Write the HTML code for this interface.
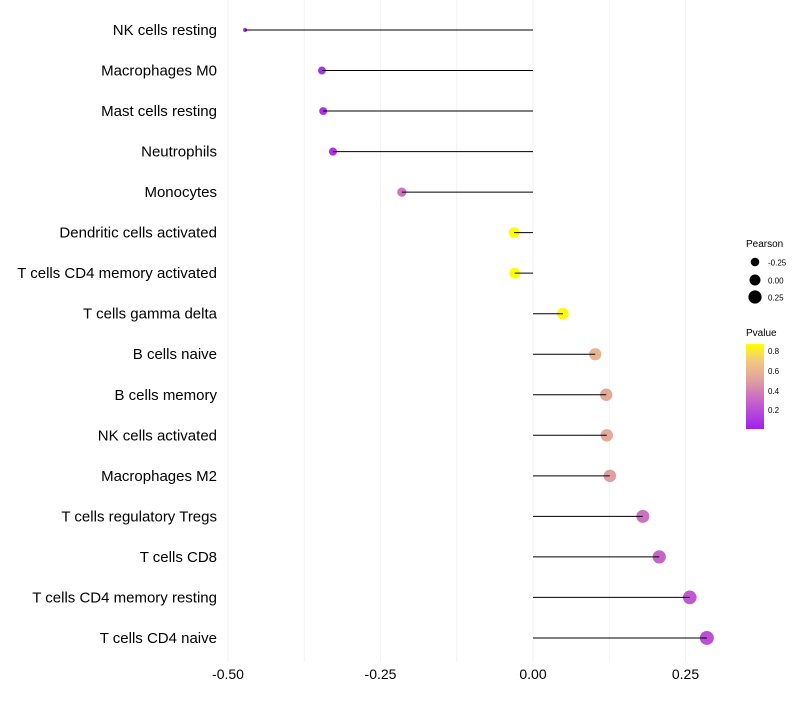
<!DOCTYPE html>
<html><head><meta charset="utf-8"><style>
body{margin:0;background:#fff;font-family:"Liberation Sans",sans-serif}
svg text{font-family:"Liberation Sans",sans-serif}
</style></head><body>
<svg id="chart" width="800" height="700" xmlns="http://www.w3.org/2000/svg">
<g id="grid"></g>
<g id="marks"></g>
<g id="ylabels"></g>
<g id="xlabels"></g>
<g>
<text x="746" y="247" font-size="10">Pearson</text>
<circle cx="755" cy="262" r="4.3" fill="#000"/><text x="768" y="265.5" font-size="8">-0.25</text>
<circle cx="755" cy="280" r="5.5" fill="#000"/><text x="768" y="283.5" font-size="8">0.00</text>
<circle cx="755" cy="297" r="6.6" fill="#000"/><text x="768" y="300.5" font-size="8">0.25</text>
</g>
<g>
<text x="746" y="336" font-size="10">Pvalue</text>
<defs><linearGradient id="cg" x1="0" y1="1" x2="0" y2="0">
<stop offset="0" stop-color="#A020F0"/><stop offset="0.35" stop-color="#C868C8"/><stop offset="0.57" stop-color="#E0A0A0"/><stop offset="0.8" stop-color="#F2C880"/><stop offset="1" stop-color="#FFFF00"/></linearGradient></defs>
<rect x="746" y="344" width="18" height="85" fill="url(#cg)"/>
<text x="768" y="354" font-size="8">0.8</text><text x="768" y="374" font-size="8">0.6</text>
<text x="768" y="394" font-size="8">0.4</text><text x="768" y="413" font-size="8">0.2</text>
</g>
</svg>
<script>
const categories=["NK cells resting","Macrophages M0","Mast cells resting","Neutrophils","Monocytes","Dendritic cells activated","T cells CD4 memory activated","T cells gamma delta","B cells naive","B cells memory","NK cells activated","Macrophages M2","T cells regulatory  Tregs ","T cells CD8","T cells CD4 memory resting","T cells CD4 naive"];
const pearson=[-0.472,-0.346,-0.344,-0.328,-0.215,-0.031,-0.030,0.049,0.102,0.120,0.121,0.126,0.180,0.207,0.257,0.285];
const pvalue=[0.05,0.1,0.1,0.1,0.35,0.88,0.88,0.85,0.6,0.55,0.55,0.5,0.35,0.3,0.25,0.22];
const xTicks=[-0.5,-0.25,0,0.25];
const xTickLabels=["-0.50","-0.25","0.00","0.25"];
const NS="http://www.w3.org/2000/svg";
function x(v){return 533+v*610;}
function y(i){return 30+i*40.53;}
function rad(v){return v<-0.42?2:4+(v+0.34)*4.8;}
function col(p){
 const st=[[0,[160,32,240]],[0.35,[200,104,200]],[0.57,[224,160,160]],[0.8,[242,200,128]],[1,[255,255,0]]];
 let t=(p-0.02)/0.85;t=Math.max(0,Math.min(1,t));
 for(let k=1;k<st.length;k++){if(t<=st[k][0]){const a=st[k-1],b=st[k];const f=(t-a[0])/(b[0]-a[0]);
  return "rgb("+a[1].map((c,j)=>Math.round(c+(b[1][j]-c)*f)).join(",")+")";}}
 return "rgb(255,255,0)";}
function mk(tag,attrs,parent){const e=document.createElementNS(NS,tag);for(const k in attrs)e.setAttribute(k,attrs[k]);document.getElementById(parent).appendChild(e);return e;}
const g=[-0.5,-0.375,-0.25,-0.125,0,0.125,0.25];
g.forEach(v=>{const l=mk("line",{x1:x(v),x2:x(v),y1:0,y2:662,stroke:"#f2f2f2","stroke-width":1},"grid");

});
xTicks.forEach((v,i)=>{const t=mk("text",{x:x(v),y:679,"font-size":14,"text-anchor":"middle",fill:"#000"},"xlabels");t.textContent=xTickLabels[i];

});
categories.forEach((c,i)=>{
 const t=mk("text",{x:217,y:y(i)+5,"font-size":15,"text-anchor":"end",fill:"#000","xml:space":"preserve"},"ylabels");t.textContent=c;
 
 
 const ci=mk("circle",{cx:x(pearson[i]),cy:y(i),r:rad(pearson[i]),fill:col(pvalue[i])},"marks");
 
 
 const l=mk("line",{x1:x(0),x2:x(pearson[i]),y1:y(i),y2:y(i),stroke:"#000","stroke-width":1},"marks");
 
 
});
</script>
</body></html>
